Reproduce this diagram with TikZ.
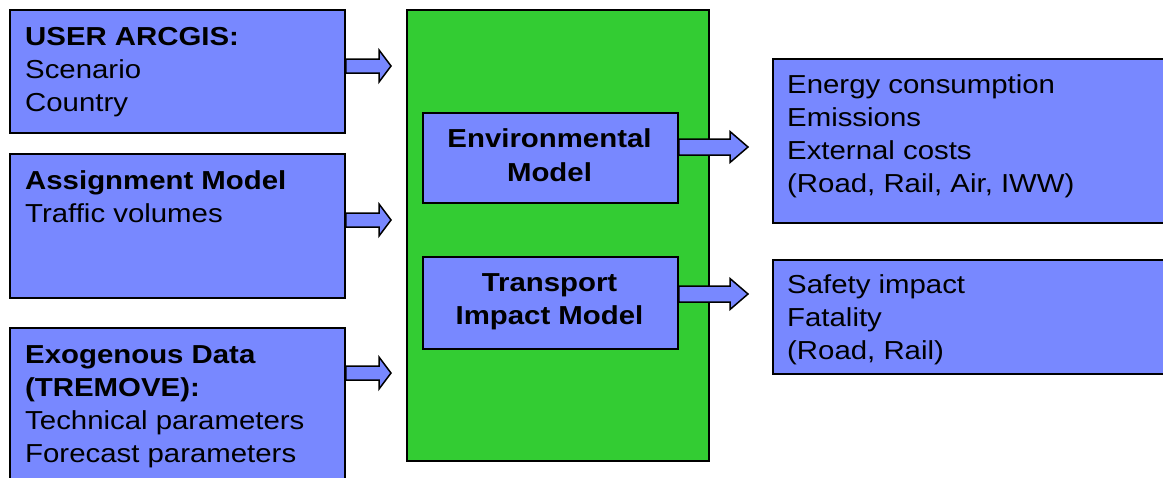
\documentclass[tikz,border=0pt]{standalone}
\usepackage{fontspec}
\setmainfont[FakeStretch=1.13]{Liberation Sans}
\usetikzlibrary{calc}
\definecolor{boxblue}{RGB}{120,136,255}
\definecolor{boxgreen}{RGB}{51,204,51}
\newcommand\blockarrow[5]{% from, tip, shaft half, head half, head length
  \path[blockarr] let \p1=(#1), \p2=(#2) in
    (\x1,\y1+#3) -- (\x2-#5,\y1+#3) -- (\x2-#5,\y1+#4) -- (\x2,\y1)
    -- (\x2-#5,\y1-#4) -- (\x2-#5,\y1-#3) -- (\x1,\y1-#3) -- cycle;}
\newcommand\txtlines[2][33pt]{\vtop{\baselineskip=#1 #2}}
\newcommand\cenline[1]{\hbox to 0pt{\hss #1\hss}}
\begin{document}
\begin{tikzpicture}[x=1pt,y=-1pt,
  bluebox/.style={draw=black,line width=1.8pt,fill=boxblue,rectangle,inner sep=0pt,anchor=north west},
  greenbox/.style={draw=black,line width=1.8pt,fill=boxgreen,rectangle,inner sep=0pt,anchor=north west},
  txt/.style={inner sep=0pt,anchor=base west,font=\fontsize{26}{33}\selectfont},
  ctxt/.style={inner sep=0pt,anchor=base,font=\fontsize{26}{33}\selectfont\bfseries},
  blockarr/.style={draw=black,line width=1.5pt,fill=boxblue,line join=miter}]
\useasboundingbox (0,0) rectangle (1163,477);
% left boxes
\node[bluebox,minimum width=335pt,minimum height=123pt] (b1) at (9,9) {};
\node[bluebox,minimum width=335pt,minimum height=144pt] (b2) at (9,153) {};
\node[bluebox,minimum width=335pt,minimum height=170pt] (b3) at (9,327) {};
\node[txt] (t1) at (25,45) {\txtlines{\hbox{\bfseries USER ARCGIS:}\hbox{Scenario}\hbox{Country}}};
\node[txt] (t2) at (25,189) {\txtlines{\hbox{\bfseries Assignment Model}\hbox{Traffic volumes}}};
\node[txt] (t3) at (25,363) {\txtlines{\hbox{\bfseries Exogenous Data}\hbox{\bfseries (TREMOVE):}\hbox{Technical parameters}\hbox{Forecast parameters}}};
% green box
\node[greenbox,minimum width=302pt,minimum height=451pt] (g) at (406,9) {};
\node[bluebox,minimum width=255pt,minimum height=90pt] (env) at (422,112) {};
\node[bluebox,minimum width=255pt,minimum height=92pt] (tim) at (422,256) {};
\node[ctxt] (envt) at (549.5,147) {\txtlines[34pt]{\cenline{Environmental}\cenline{Model}}};
\node[ctxt] (timt) at (549.5,291) {\txtlines{\cenline{Transport}\cenline{Impact Model}}};
% right boxes
\node[bluebox,minimum width=400pt,minimum height=164pt] (r1) at (772,58) {};
\node[bluebox,minimum width=400pt,minimum height=114pt] (r2) at (772,259) {};
\node[txt] (rt1) at (787,93) {\txtlines{\hbox{Energy consumption}\hbox{Emissions}\hbox{External costs}\hbox{(Road, Rail, Air, IWW)}}};
\node[txt] (rt2) at (787,293) {\txtlines{\hbox{Safety impact}\hbox{Fatality}\hbox{(Road, Rail)}}};
% arrows
\coordinate (a1) at (391,66);
\coordinate (a2) at (391,220);
\coordinate (a3) at (391,373);
\coordinate (a4) at (748,147);
\coordinate (a5) at (748,294);
\blockarrow{b1.east |- a1}{a1}{7pt}{16pt}{12pt}
\blockarrow{b2.east |- a2}{a2}{7pt}{16pt}{12pt}
\blockarrow{b3.east |- a3}{a3}{7pt}{16pt}{12pt}
\blockarrow{env.east |- a4}{a4}{8pt}{15.5pt}{18pt}
\blockarrow{tim.east |- a5}{a5}{8pt}{15.5pt}{18pt}
\end{tikzpicture}
\end{document}
